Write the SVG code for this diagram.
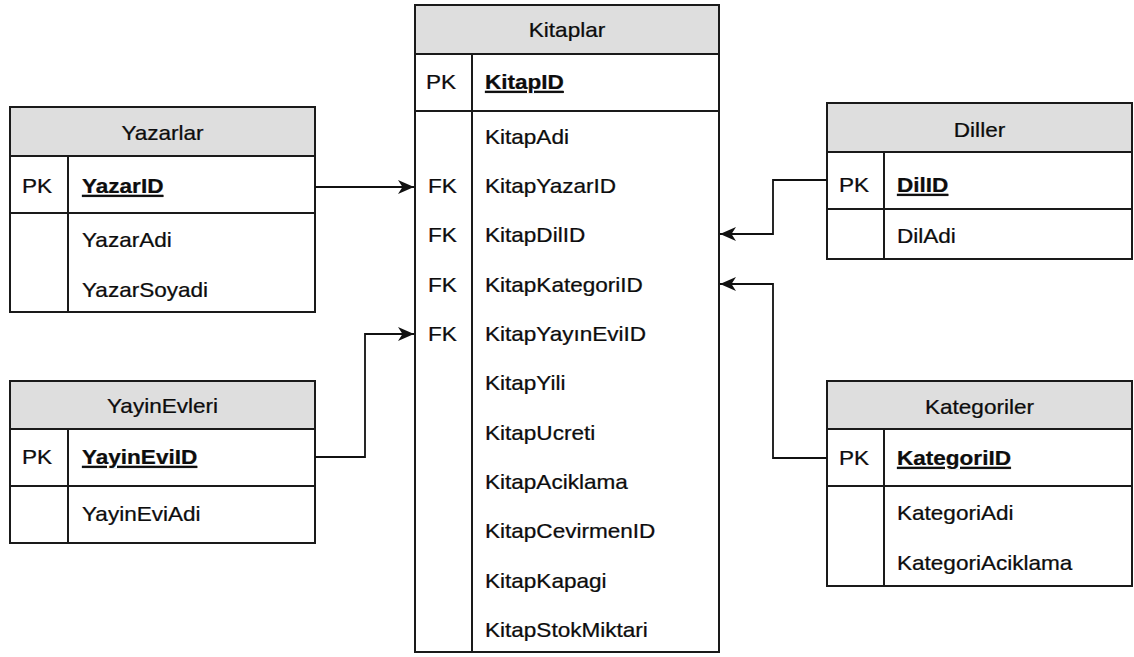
<svg xmlns="http://www.w3.org/2000/svg" width="1134" height="657" viewBox="0 0 1134 657">
  <style>
    .box { fill: #ffffff; stroke: #1a1a1a; stroke-width: 2; }
    .head { fill: #dedede; stroke: #1a1a1a; stroke-width: 2; }
    .sep { stroke: #1a1a1a; stroke-width: 2; fill: none; }
    .t { font-family: "Liberation Sans", Arial, sans-serif; font-size: 20.5px; fill: #0d0d0d; stroke: #0d0d0d; stroke-width: 0.25; }
    .c { text-anchor: middle; }
    .k { font-weight: bold; text-decoration: underline; }
    .link { fill: none; stroke: #111111; stroke-width: 1.8; }
  </style>
  <defs>
    <marker id="arrow" markerUnits="userSpaceOnUse" markerWidth="18" markerHeight="16" refX="16" refY="8" orient="auto">
      <path d="M0,1 L16,8 L0,15 L4.5,8 Z" fill="#111111"/>
    </marker>
  </defs>

  <rect width="1134" height="657" fill="#ffffff"/>

  <!-- Kitaplar -->
  <g id="kitaplar">
    <rect class="box" x="415" y="5" width="304" height="647"/>
    <rect class="head" x="415" y="5" width="304" height="49"/>
    <line class="sep" x1="415" y1="111" x2="719" y2="111"/>
    <line class="sep" x1="472" y1="54" x2="472" y2="652"/>
    <text class="t c" transform="translate(567,37) scale(1.1,1)">Kitaplar</text>
    <text class="t" transform="translate(426,89) scale(1.1,1)">PK</text>
    <text class="t k" transform="translate(485,89) scale(1.1,1)">KitapID</text>
    <text class="t" transform="translate(485,144) scale(1.1,1)">KitapAdi</text>
    <text class="t" transform="translate(428,193) scale(1.1,1)">FK</text>
    <text class="t" transform="translate(485,193) scale(1.1,1)">KitapYazarID</text>
    <text class="t" transform="translate(428,242) scale(1.1,1)">FK</text>
    <text class="t" transform="translate(485,242) scale(1.1,1)">KitapDilID</text>
    <text class="t" transform="translate(428,292) scale(1.1,1)">FK</text>
    <text class="t" transform="translate(485,292) scale(1.1,1)">KitapKategoriID</text>
    <text class="t" transform="translate(428,341) scale(1.1,1)">FK</text>
    <text class="t" transform="translate(485,341) scale(1.1,1)">KitapYayınEviID</text>
    <text class="t" transform="translate(485,390) scale(1.1,1)">KitapYili</text>
    <text class="t" transform="translate(485,440) scale(1.1,1)">KitapUcreti</text>
    <text class="t" transform="translate(485,489) scale(1.1,1)">KitapAciklama</text>
    <text class="t" transform="translate(485,538) scale(1.1,1)">KitapCevirmenID</text>
    <text class="t" transform="translate(485,588) scale(1.1,1)">KitapKapagi</text>
    <text class="t" transform="translate(485,637) scale(1.1,1)">KitapStokMiktari</text>
  </g>

  <!-- Yazarlar -->
  <g id="yazarlar">
    <rect class="box" x="10" y="107" width="305" height="205"/>
    <rect class="head" x="10" y="107" width="305" height="49"/>
    <line class="sep" x1="10" y1="213" x2="315" y2="213"/>
    <line class="sep" x1="68" y1="156" x2="68" y2="312"/>
    <text class="t c" transform="translate(162.5,140) scale(1.1,1)">Yazarlar</text>
    <text class="t" transform="translate(22,193) scale(1.1,1)">PK</text>
    <text class="t k" transform="translate(82,193) scale(1.1,1)">YazarID</text>
    <text class="t" transform="translate(82,247) scale(1.1,1)">YazarAdi</text>
    <text class="t" transform="translate(82,297) scale(1.1,1)">YazarSoyadi</text>
  </g>

  <!-- YayinEvleri -->
  <g id="yayinevleri">
    <rect class="box" x="10" y="381" width="305" height="162"/>
    <rect class="head" x="10" y="381" width="305" height="48"/>
    <line class="sep" x1="10" y1="486" x2="315" y2="486"/>
    <line class="sep" x1="68" y1="429" x2="68" y2="543"/>
    <text class="t c" transform="translate(162.5,413) scale(1.1,1)">YayinEvleri</text>
    <text class="t" transform="translate(22,464) scale(1.1,1)">PK</text>
    <text class="t k" transform="translate(82,464) scale(1.1,1)">YayinEviID</text>
    <text class="t" transform="translate(82,521) scale(1.1,1)">YayinEviAdi</text>
  </g>

  <!-- Diller -->
  <g id="diller">
    <rect class="box" x="827" y="103" width="305" height="156"/>
    <rect class="head" x="827" y="103" width="305" height="49"/>
    <line class="sep" x1="827" y1="209" x2="1132" y2="209"/>
    <line class="sep" x1="884" y1="152" x2="884" y2="259"/>
    <text class="t c" transform="translate(979.5,137) scale(1.1,1)">Diller</text>
    <text class="t" transform="translate(839,192) scale(1.1,1)">PK</text>
    <text class="t k" transform="translate(897,192) scale(1.1,1)">DilID</text>
    <text class="t" transform="translate(897,243) scale(1.1,1)">DilAdi</text>
  </g>

  <!-- Kategoriler -->
  <g id="kategoriler">
    <rect class="box" x="827" y="381" width="305" height="205"/>
    <rect class="head" x="827" y="381" width="305" height="48"/>
    <line class="sep" x1="827" y1="486" x2="1132" y2="486"/>
    <line class="sep" x1="884" y1="429" x2="884" y2="586"/>
    <text class="t c" transform="translate(979.5,414) scale(1.1,1)">Kategoriler</text>
    <text class="t" transform="translate(839,465) scale(1.1,1)">PK</text>
    <text class="t k" transform="translate(897,465) scale(1.1,1)">KategoriID</text>
    <text class="t" transform="translate(897,520) scale(1.1,1)">KategoriAdi</text>
    <text class="t" transform="translate(897,570) scale(1.1,1)">KategoriAciklama</text>
  </g>

  <!-- foreign key links -->
  <g id="connectors">
    <path class="link" d="M315,187 L414,187" marker-end="url(#arrow)"/>
    <path class="link" d="M315,457 L365,457 L365,334 L414,334" marker-end="url(#arrow)"/>
    <path class="link" d="M827,180 L773,180 L773,234 L720,234" marker-end="url(#arrow)"/>
    <path class="link" d="M827,458 L773,458 L773,284 L720,284" marker-end="url(#arrow)"/>
  </g>
</svg>
